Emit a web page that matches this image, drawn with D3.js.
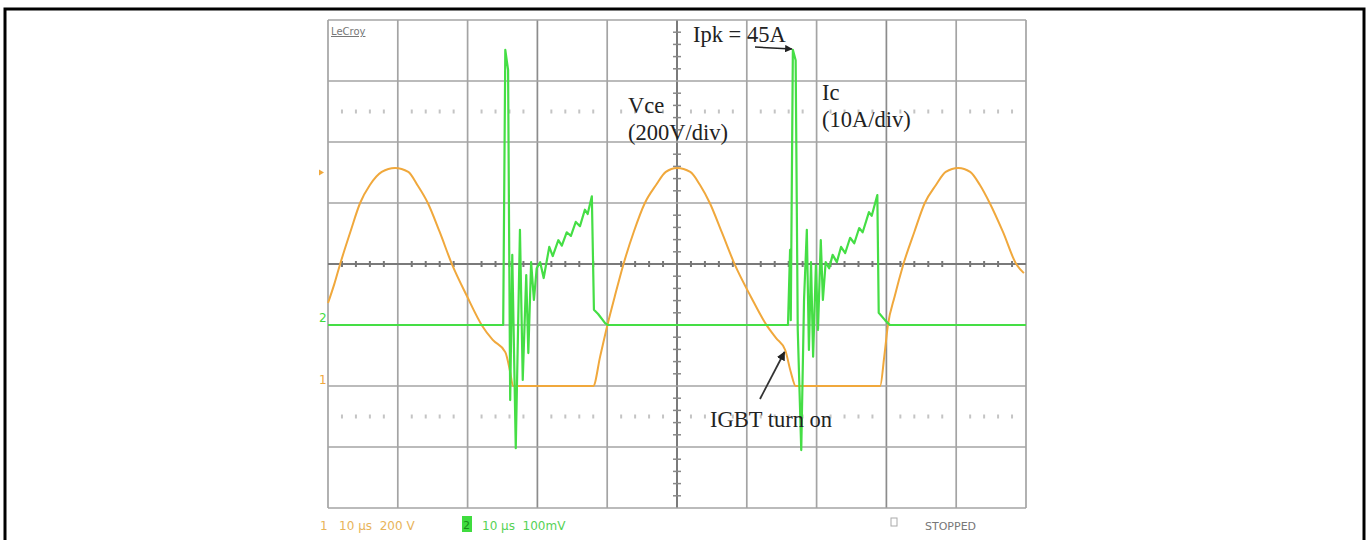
<!DOCTYPE html>
<html>
<head>
<meta charset="utf-8">
<script src="https://cdn.jsdelivr.net/npm/d3@7"></script>
<style>
  body { margin: 0; background: #fff; }
  svg { display: block; }
</style>
</head>
<body>
<svg id="chart" width="1368" height="540"></svg>
<script>
// scope capture: time in µs (10 µs/div), Vce in V (200 V/div), Ic in A (10 A/div)
const vceTime = [-50, -49.1, -48.3, -46.8, -45.4, -44, -42.3, -40.4, -38.5, -37.2, -35.7, -34, -32.2, -30.1, -27.9, -26.4, -24.6, -23.9, -23.5, -12, -11, -10, -8.9, -7.7, -6.2, -4.6, -3, -1.6, 0, 1.9, 3.3, 4.7, 6.4, 8.3, 10.6, 12.9, 14.2, 15.5, 16.3, 17, 29.1, 29.7, 30.2, 31.2, 32.4, 34, 35.5, 37.1, 38.5, 40.3, 42, 43.4, 44.8, 46.7, 48.6, 49.7];
const vceVolts = [272, 334, 397, 505, 600, 659, 702, 715, 702, 659, 600, 505, 397, 295, 197, 151, 111, 46, 0, 0, 98, 197, 295, 397, 505, 600, 659, 702, 715, 702, 659, 600, 505, 397, 292, 197, 157, 118, 46, 0, 0, 98, 197, 295, 397, 505, 600, 659, 702, 715, 702, 659, 600, 505, 400, 370];

const icTime = [-50, -24.9, -24.6, -24.2, -23.9, -23.6, -23.1, -22.5, -22.1, -21.6, -21.3, -20.9, -20.5, -20.1, -19.6, -19.1, -18.3, -17.8, -17.0, -16.5, -15.8, -15.2, -14.5, -13.9, -13.2, -12.8, -12.2, -11.9, -11.3, -10.3, -9.9,
  15.9, 16.2, 16.3, 16.6, 17.0, 17.3, 17.8, 18.2, 18.6, 18.9, 19.2, 19.5, 19.9, 20.2, 20.6, 20.9, 21.3, 21.8, 22.3, 22.9, 23.5, 24.1, 24.8, 25.4, 26.1, 26.6, 27.5, 27.9, 28.7, 28.9, 29.8, 30.5, 50];
const icAmps = [0, 0, 45.1, 41.8, -12.3, 11.5, -20.2, 15.6, -9.0, 8.2, -4.6, 10.3, 4.1, 9.3, 10.3, 7.7, 12.8, 11.3, 13.9, 13.0, 15.2, 14.6, 16.9, 16.2, 18.9, 18.2, 21.1, 2.5, 1.8, 0.3, 0,
  0, 12.3, 0.8, 45.1, 43.4, -0.8, -20.5, 4.1, 15.6, -4.1, 10.3, -5.2, 9.8, -0.8, 13.9, 4.1, 10.3, 9.3, 11.5, 10.3, 12.8, 11.8, 14.3, 13.4, 15.9, 15.2, 18.5, 17.9, 21.3, 2.0, 0.8, 0, 0];

const timeGrid = [-50, -40, -30, -20, -10, 0, 10, 20, 30, 40, 50];
const voltGrid = [-400, -200, 0, 200, 400, 600, 800, 1000, 1200];
const dottedVolts = [900, -100];

const ch1Label = "1   10 µs  200 V";
const ch2Label = "10 µs  100mV";

const svg = d3.select("#chart");

const x = d3.scaleLinear().domain([-50, 50]).range([328, 1026]);
const yV = d3.scaleLinear().domain([-400, 1200]).range([508, 20]);
const yI = d3.scaleLinear().domain([-30, 50]).range([508, 20]);

// outer frame
svg.append("rect")
  .attr("x", 5).attr("y", 9)
  .attr("width", 1359).attr("height", 600)
  .attr("fill", "none")
  .attr("stroke", "#000")
  .attr("stroke-width", 3);

const defs = svg.append("defs");
defs.append("marker")
  .attr("id", "head")
  .attr("viewBox", "0 0 10 10")
  .attr("refX", 9).attr("refY", 5)
  .attr("markerWidth", 5).attr("markerHeight", 5)
  .attr("orient", "auto")
  .append("path")
  .attr("d", "M0,0 L10,5 L0,10 z")
  .attr("fill", "#222");

const grid = svg.append("g");

// major grid
grid.selectAll(".vline").data(timeGrid).enter().append("line")
  .attr("x1", d => x(d)).attr("x2", d => x(d))
  .attr("y1", yV(1200)).attr("y2", yV(-400))
  .attr("stroke", d => (d === 0 ? "#7a7a7a" : (d === -20 || d === 30 ? "#8c8c8c" : "#a4a4a4")))
  .attr("stroke-width", d => (d === 0 ? 2 : 1.7));

grid.selectAll(".hline").data(voltGrid).enter().append("line")
  .attr("y1", d => yV(d)).attr("y2", d => yV(d))
  .attr("x1", x(-50)).attr("x2", x(50))
  .attr("stroke", d => (d === 400 ? "#7a7a7a" : "#a4a4a4"))
  .attr("stroke-width", d => (d === 400 ? 2 : 1.7));

// fifth-division marks
const minorT = d3.range(-50, 50.01, 2).filter(t => Math.abs(t % 10) > 0.01);
const minorV = d3.range(-400, 1200.01, 40).filter(v => Math.abs(v % 200) > 0.01);

dottedVolts.forEach(v => {
  grid.selectAll(null).data(minorT).enter().append("line")
    .attr("x1", d => x(d)).attr("x2", d => x(d))
    .attr("y1", yV(v) - 2).attr("y2", yV(v) + 2)
    .attr("stroke", "#c4c4c4")
    .attr("stroke-width", 2);
});

grid.selectAll(".tickT").data(minorT).enter().append("line")
  .attr("x1", d => x(d)).attr("x2", d => x(d))
  .attr("y1", yV(400) - 3).attr("y2", yV(400) + 3)
  .attr("stroke", "#777")
  .attr("stroke-width", 2);

grid.selectAll(".tickV").data(minorV).enter().append("line")
  .attr("y1", d => yV(d)).attr("y2", d => yV(d))
  .attr("x1", x(0) - 4).attr("x2", x(0) + 4)
  .attr("stroke", "#888")
  .attr("stroke-width", 1.5);

// traces
const vceData = vceTime.map((t, i) => ({ t, v: vceVolts[i] }));
const icData = icTime.map((t, i) => ({ t, v: icAmps[i] }));

svg.append("path")
  .datum(vceData)
  .attr("d", d3.line().x(d => x(d.t)).y(d => yV(d.v)).curve(d3.curveMonotoneX))
  .attr("fill", "none")
  .attr("stroke", "#f0a83c")
  .attr("stroke-width", 2);

svg.append("path")
  .datum(icData)
  .attr("d", d3.line().x(d => x(d.t)).y(d => yI(d.v)))
  .attr("fill", "none")
  .attr("stroke", "#45de45")
  .attr("stroke-width", 2.2)
  .attr("stroke-linejoin", "round");

// channel markers on the left
svg.append("path")
  .attr("d", `M${x(-50) - 9},${yV(700) - 3} l5,3 l-5,3 z`)
  .attr("fill", "#f0a83c");
svg.append("text")
  .attr("x", x(-50) - 9).attr("y", yI(0) - 3)
  .attr("font-family", "DejaVu Sans").attr("font-size", 12)
  .attr("fill", "#3fdc3f").text("2");
svg.append("text")
  .attr("x", x(-50) - 9).attr("y", yV(0) - 2)
  .attr("font-family", "DejaVu Sans").attr("font-size", 12)
  .attr("fill", "#f0a83c").text("1");

// LeCroy badge
svg.append("text")
  .attr("x", 331).attr("y", 35)
  .attr("font-family", "DejaVu Sans").attr("font-size", 10)
  .attr("fill", "#777").attr("text-decoration", "underline")
  .text("LeCroy");

// annotations
const ann = svg.append("g")
  .attr("font-family", "Liberation Serif, Times New Roman, serif")
  .attr("font-size", 22.5)
  .attr("fill", "#222");

ann.append("text").attr("x", 693).attr("y", 42).text("Ipk = 45A");
ann.append("text").attr("x", 628).attr("y", 113).text("Vce");
ann.append("text").attr("x", 628).attr("y", 140).text("(200V/div)");
ann.append("text").attr("x", 822).attr("y", 100).text("Ic");
ann.append("text").attr("x", 822).attr("y", 127).text("(10A/div)");
ann.append("text").attr("x", 710).attr("y", 427).text("IGBT turn on");

svg.append("line")
  .attr("x1", 755).attr("y1", 47).attr("x2", x(16.6) - 1).attr("y2", 49)
  .attr("stroke", "#222").attr("stroke-width", 1.5)
  .attr("marker-end", "url(#head)");

svg.append("line")
  .attr("x1", 760).attr("y1", 399).attr("x2", x(15.4)).attr("y2", yV(118) + 2)
  .attr("stroke", "#333").attr("stroke-width", 1.8)
  .attr("marker-end", "url(#head)");

// status line
const status = svg.append("g")
  .attr("font-family", "DejaVu Sans")
  .attr("font-size", 12);

status.append("text").attr("x", 320).attr("y", 530)
  .attr("fill", "#e8b45a")
  .style("white-space", "pre").text(ch1Label);

status.append("rect").attr("x", 462).attr("y", 516)
  .attr("width", 10).attr("height", 16).attr("fill", "#3fdc3f");
status.append("text").attr("x", 463).attr("y", 529)
  .attr("fill", "#1a8a1a").attr("font-size", 11).text("2");
status.append("text").attr("x", 482).attr("y", 530)
  .attr("fill", "#56d256").style("white-space", "pre").text(ch2Label);

status.append("rect").attr("x", 891).attr("y", 518)
  .attr("width", 6).attr("height", 8)
  .attr("fill", "none").attr("stroke", "#aaa");
status.append("text").attr("x", 925).attr("y", 530)
  .attr("fill", "#777").attr("font-size", 11).text("STOPPED");
</script>
</body>
</html>
